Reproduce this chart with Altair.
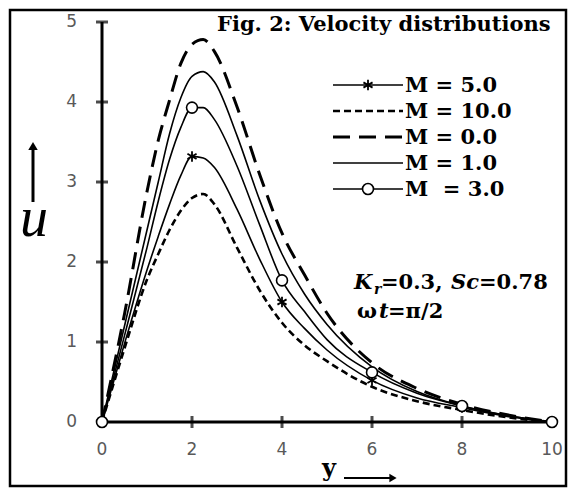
import altair as alt
import pandas as pd

# ---- data ----
x_vals = [0, 0.5, 1, 1.25, 1.5, 1.75, 2, 2.25, 2.5, 3, 3.5, 4, 4.5, 5, 6, 7, 8, 9, 10]
u_m0 = [0, 1.35, 2.88, 3.52, 4.02, 4.48, 4.72, 4.78, 4.63, 3.94, 3.10, 2.36, 1.84, 1.36, 0.74, 0.42, 0.22, 0.09, 0]
u_m1 = [0, 1.20, 2.40, 3.00, 3.60, 4.05, 4.32, 4.38, 4.25, 3.58, 2.78, 2.10, 1.60, 1.22, 0.69, 0.38, 0.20, 0.08, 0]
u_m3 = [0, 1.08, 2.18, 2.76, 3.28, 3.68, 3.93, 3.93, 3.78, 3.20, 2.47, 1.77, 1.38, 1.03, 0.62, 0.36, 0.20, 0.08, 0]
u_m5 = [0, 0.98, 1.90, 2.32, 2.72, 3.08, 3.32, 3.30, 3.18, 2.66, 2.04, 1.50, 1.17, 0.90, 0.52, 0.30, 0.18, 0.07, 0]
u_m10 = [0, 0.92, 1.78, 2.10, 2.40, 2.64, 2.80, 2.85, 2.72, 2.18, 1.65, 1.24, 0.96, 0.76, 0.44, 0.26, 0.15, 0.06, 0]
marker_x = [0, 2, 4, 6, 8, 10]
x_ticks = [0, 2, 4, 6, 8, 10]
y_ticks = [0, 1, 2, 3, 4, 5]
legend_labels = ["M = 5.0", "M = 10.0", "M = 0.0", "M = 1.0", "M\u00a0 = 3.0"]
title_text = "Fig. 2: Velocity distributions"

# ---- layout ----
W, H = 556, 476
xdom = [-92 / 45, 10 + 14 / 45]
ydom = [-0.8, 5.15]
xs = alt.Scale(domain=xdom, nice=False, zero=False)
ys = alt.Scale(domain=ydom, nice=False, zero=False)
SERIF = "DejaVu Serif"
one = pd.DataFrame({"a": [0]})


def X(f="x"):
    return alt.X(f"{f}:Q", scale=xs, axis=None)


def Y(f="y"):
    return alt.Y(f"{f}:Q", scale=ys, axis=None)


layers = []

# axes lines
axes_df = pd.DataFrame({"x": [0, 0], "y": [0, 0], "x2": [10, 0], "y2": [0, 5]})
layers.append(alt.Chart(axes_df).mark_rule(color="black", strokeWidth=3).encode(
    x=X(), y=Y(), x2="x2:Q", y2="y2:Q"))
# ticks
xt_df = pd.DataFrame({"x": x_ticks, "y": [0] * len(x_ticks)})
yt_df = pd.DataFrame({"y": y_ticks, "x": [0] * len(y_ticks)})
layers.append(alt.Chart(xt_df).mark_tick(orient="vertical", size=12, thickness=3, color="black").encode(x=X(), y=Y()))
layers.append(alt.Chart(yt_df).mark_tick(orient="horizontal", size=12, thickness=3, color="black").encode(x=X(), y=Y()))
# tick labels
xt_df["t"] = [str(v) for v in x_ticks]
yt_df["t"] = [str(v) for v in y_ticks]
layers.append(alt.Chart(xt_df).mark_text(dy=28, font="DejaVu Sans", fontSize=17, color="#595959").encode(
    x=X(), y=Y(), text="t:N"))
layers.append(alt.Chart(yt_df).mark_text(dx=-25, align="right", font="DejaVu Sans", fontSize=17, color="#595959").encode(
    x=X(), y=Y(), text="t:N"))

# series
series = [
    ("M5", u_m5, dict(strokeWidth=1.6), "star"),
    ("M10", u_m10, dict(strokeWidth=2.6, strokeDash=[7, 4]), None),
    ("M0", u_m0, dict(strokeWidth=3, strokeDash=[17, 9]), None),
    ("M1", u_m1, dict(strokeWidth=1.6), None),
    ("M3", u_m3, dict(strokeWidth=1.6), "circle"),
]
STAR = "M0,-1L0,1M-0.87,-0.5L0.87,0.5M-0.87,0.5L0.87,-0.5"

leg_y0, leg_step = 75, 26
for i, (name, vals, style, mk) in enumerate(series):
    df = pd.DataFrame({"x": x_vals, "y": vals})
    layers.append(alt.Chart(df).mark_line(interpolate="monotone", color="black", **style).encode(x=X(), y=Y()))
    ry = leg_y0 + i * leg_step
    layers.append(alt.Chart(one).mark_rule(color="black", **style).encode(
        x=alt.value(323), x2=alt.value(393), y=alt.value(ry)))
    layers.append(alt.Chart(one).mark_text(text=legend_labels[i], align="left", baseline="middle",
                                           font=SERIF, fontWeight="bold", fontSize=21, color="black").encode(
        x=alt.value(395), y=alt.value(ry + 1)))
    if mk:
        mdf = pd.DataFrame({"x": marker_x, "y": [vals[x_vals.index(v)] for v in marker_x]})
        if mk == "star":
            pm = dict(shape=STAR, filled=False, stroke="black", strokeWidth=1.8, size=110)
        else:
            pm = dict(shape="circle", filled=True, fill="white", stroke="black", strokeWidth=1.6, size=120)
        layers.append(alt.Chart(mdf).mark_point(**pm, opacity=1).encode(x=X(), y=Y()))
        layers.append(alt.Chart(one).mark_point(**pm, opacity=1).encode(x=alt.value(358), y=alt.value(ry)))

# title
layers.append(alt.Chart(one).mark_text(text=title_text, align="left", baseline="middle", font=SERIF,
                                       fontWeight="bold", fontSize=21, color="black").encode(
    x=alt.value(207), y=alt.value(15)))

# annotation
ann = [
    ("K", 344, 273, 21, "italic"),
    ("r", 364, 280, 14, "italic"),
    ("=0.3,", 371, 273, 21, "normal"),
    ("Sc", 441, 273, 21, "italic"),
    ("=0.78", 469, 273, 21, "normal"),
    ("\u03c9", 347, 302, 21, "normal"),
    ("t", 369, 302, 21, "italic"),
    ("=\u03c0/2", 378, 302, 21, "normal"),
]
for t, ax, ay, fs, st in ann:
    layers.append(alt.Chart(one).mark_text(text=t, align="left", baseline="middle", font=SERIF,
                                           fontWeight="bold", fontStyle=st, fontSize=fs, color="black").encode(
        x=alt.value(ax), y=alt.value(ay)))

# y-axis label "u" with up arrow
layers.append(alt.Chart(one).mark_text(text="u", align="center", baseline="alphabetic", font="Liberation Serif",
                                       fontStyle="italic", fontSize=56, color="black").encode(
    x=alt.value(24), y=alt.value(226)))
layers.append(alt.Chart(one).mark_rule(color="black", strokeWidth=3).encode(
    x=alt.value(23), y=alt.value(138), y2=alt.value(192)))
layers.append(alt.Chart(one).mark_point(shape="triangle-up", filled=True, color="black", size=90, opacity=1).encode(
    x=alt.value(23), y=alt.value(136)))

# x-axis label "y" with right arrow
layers.append(alt.Chart(one).mark_text(text="y", align="center", baseline="alphabetic", font=SERIF,
                                       fontWeight="bold", fontSize=24, color="black").encode(
    x=alt.value(319), y=alt.value(466)))
layers.append(alt.Chart(one).mark_rule(color="black", strokeWidth=2.2).encode(
    x=alt.value(334), x2=alt.value(380), y=alt.value(468)))
layers.append(alt.Chart(one).mark_point(shape="triangle-right", filled=True, color="black", size=70, opacity=1).encode(
    x=alt.value(383), y=alt.value(468)))

chart = alt.layer(*layers).properties(width=W, height=H, padding=2).configure_view(
    stroke="black", strokeWidth=2.5)

chart.save("out.html", embed_options={"renderer": "svg", "actions": False})
